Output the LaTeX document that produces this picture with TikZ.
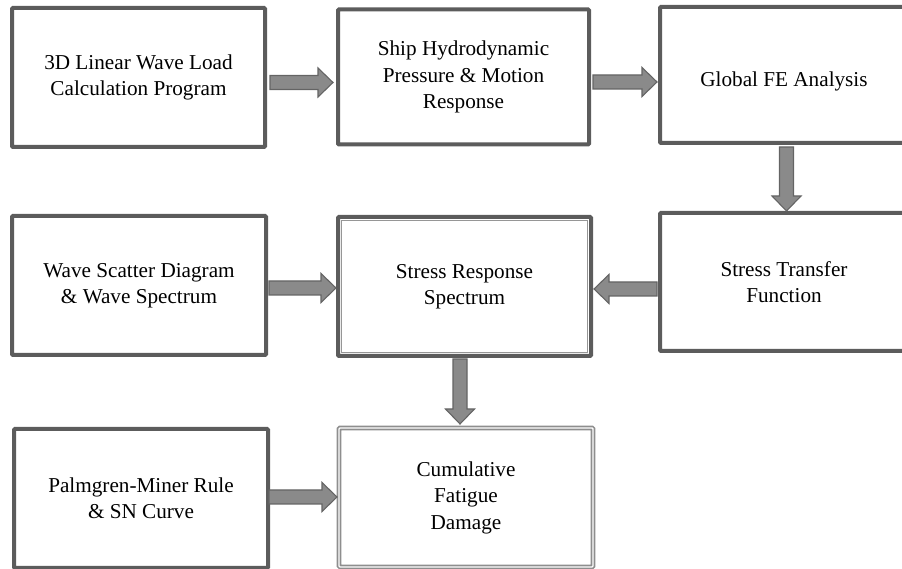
\documentclass[tikz,border=0pt]{standalone}
\usepackage{fontspec}
\setmainfont{Liberation Serif}
\usepackage{tikz}
\usetikzlibrary{positioning,calc}

\definecolor{boxline}{RGB}{92,92,92}
\definecolor{innerline}{RGB}{150,150,150}
\definecolor{arrowfill}{RGB}{138,138,138}
\definecolor{arrowline}{RGB}{100,100,100}

\tikzset{
    box/.style={draw=boxline, line width=4pt, rounded corners=1pt, fill=white,
        inner sep=0pt, outer sep=0pt, align=center,
        font=\fontsize{21.2}{26.5}\selectfont},
    dbox/.style={box, draw=innerline!95!black, line width=1.6pt,
        double=white, double distance=1.4pt},
    fat/.style={draw=arrowline, fill=arrowfill, line width=1.1pt, line join=miter,
        to path={
            ($(\tikztostart)!7pt!90:(\tikztotarget)$)
            -- ($(\tikztotarget)!16.55pt!-25.02:(\tikztostart)$)
            -- ($(\tikztotarget)!20.86pt!-44.03:(\tikztostart)$)
            -- (\tikztotarget)
            -- ($(\tikztotarget)!20.86pt!44.03:(\tikztostart)$)
            -- ($(\tikztotarget)!16.55pt!25.02:(\tikztostart)$)
            -- ($(\tikztostart)!7pt!-90:(\tikztotarget)$)
            -- cycle}}
}

\begin{document}
\begin{tikzpicture}[x=1pt, y=1pt]
    \useasboundingbox (0,0) rectangle (902,569);
    \clip (0,0) rectangle (902,569);

    % Top row
    \node[box, minimum width=253pt, minimum height=139pt] (load) at (138.5,491.5)
        {3D Linear Wave Load\\Calculation Program};
    \node[box, minimum width=251pt, minimum height=135pt] (ship) at (463.5,492)
        {Ship Hydrodynamic\\Pressure \& Motion\\Response};
    \node[box, minimum width=248pt, minimum height=136pt,
        text height=24pt, text depth=0pt] (fe) at (784,494)
        {Global FE Analysis};

    % Middle row
    \node[box, minimum width=254pt, minimum height=139pt] (scatter) at (139,283.5)
        {Wave Scatter Diagram\\\& Wave Spectrum};
    \node[box, minimum width=253pt, minimum height=139pt] (resp) at (464.5,282.5)
        {Stress Response\\Spectrum};
    \draw[innerline, line width=1.2pt]
        ([shift={(3.6pt,-3.6pt)}]resp.north west) rectangle ([shift={(-3.6pt,3.6pt)}]resp.south east);
    \node[box, minimum width=248pt, minimum height=138pt] (transfer) at (784,287)
        {Stress Transfer\\Function};

    % Bottom row
    \node[box, minimum width=254pt, minimum height=139pt] (miner) at (141,70.5)
        {Palmgren-Miner Rule\\\& SN Curve};
    \node[dbox, minimum width=254pt, minimum height=139pt] (damage) at (466,71.5)
        {Cumulative\\Fatigue\\Damage};

    % Block arrows
    \draw[fat] ([shift={(5pt,-5pt)}]load.east) to ([shift={(-5pt,-5.5pt)}]ship.west);
    \draw[fat] ([shift={(4pt,-5pt)}]ship.east) to ([shift={(-3pt,-7pt)}]fe.west);
    \draw[fat] ([shift={(2.5pt,-4pt)}]fe.south) to ([shift={(2.5pt,2pt)}]transfer.north);
    \draw[fat] ([shift={(-3pt,-7pt)}]transfer.west) to ([shift={(3pt,-2.5pt)}]resp.east);
    \draw[fat] ([shift={(3pt,-2.5pt)}]scatter.east) to ([shift={(-2pt,-1.5pt)}]resp.west);
    \draw[fat] ([shift={(-4.5pt,-3pt)}]resp.south) to ([shift={(-6pt,4pt)}]damage.north);
    \draw[fat] ([shift={(1pt,1.5pt)}]miner.east) to ([shift={(-2pt,0.5pt)}]damage.west);
\end{tikzpicture}
\end{document}
